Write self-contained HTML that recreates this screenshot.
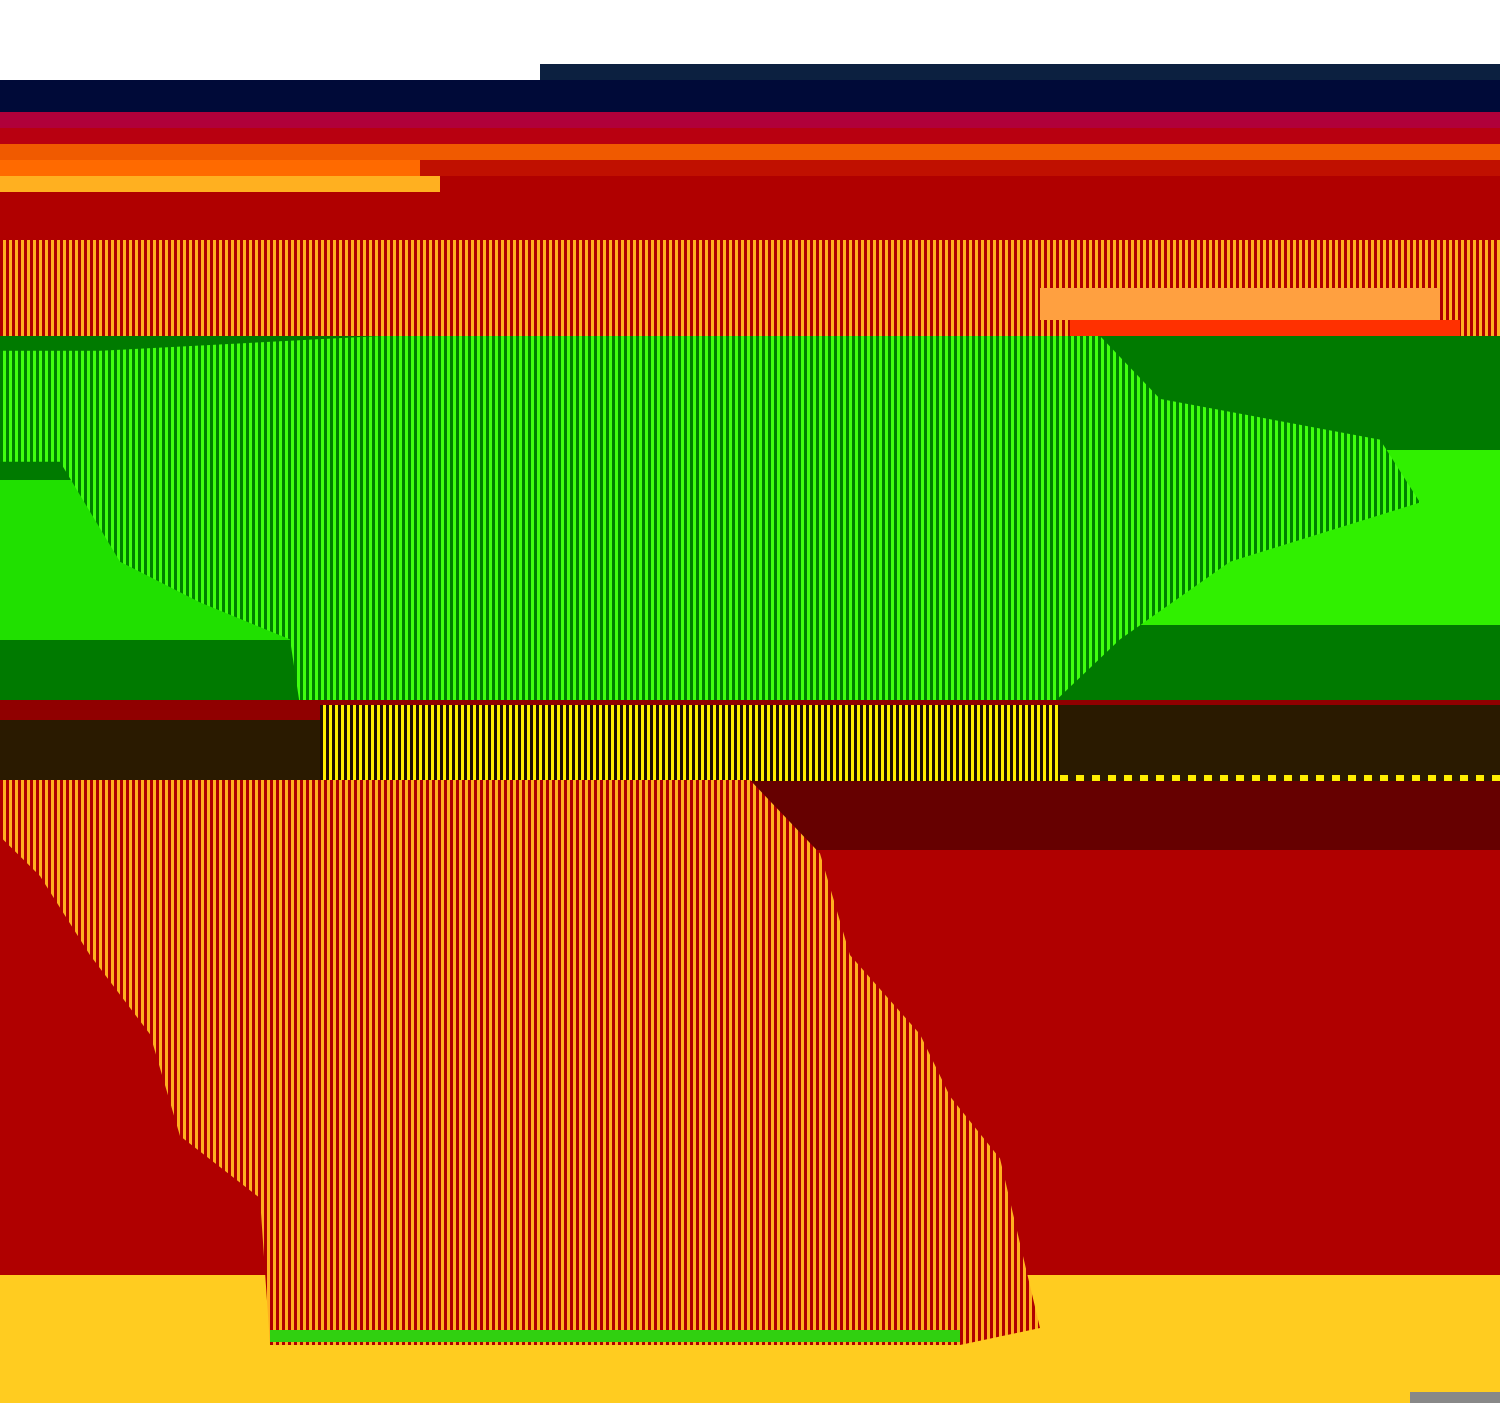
<!DOCTYPE html>
<html><head><meta charset="utf-8"><style>
html,body{margin:0;padding:0;background:#fff;}
#c{position:relative;width:1500px;height:1403px;overflow:hidden;background:#fff;font-family:"Liberation Sans",sans-serif;}
#c div{position:absolute;}
.tex-or{background:repeating-linear-gradient(90deg,#b00000 0 3px,#ffb020 3px 6px);}
.tex-gr{background:repeating-linear-gradient(90deg,#008000 0 3px,#40ff10 3px 6px);}
.tex-yl{background:repeating-linear-gradient(90deg,#201000 0 3px,#ffee00 3px 6px);}
</style></head><body>
<div id="c">
<div style="left:540px;top:64px;width:960px;height:16px;background:#0c2040"></div>
<div style="left:0;top:80px;width:1500px;height:32px;background:#000a38"></div>
<div style="left:0;top:112px;width:1500px;height:32px;background:#b0003a"></div>
<div style="left:0;top:128px;width:1500px;height:16px;background:#b80010"></div>
<div style="left:0;top:144px;width:1500px;height:16px;background:#f05a00"></div>
<div style="left:0;top:160px;width:1500px;height:16px;background:#c01000"></div>
<div style="left:0;top:160px;width:420px;height:16px;background:#ff6a00"></div>
<div style="left:0;top:176px;width:440px;height:16px;background:#ffb020"></div>
<div style="left:440px;top:176px;width:1060px;height:16px;background:#b00000"></div>
<div style="left:0;top:192px;width:1500px;height:48px;background:#b00000"></div>
<div class="tex-or" style="left:0;top:240px;width:1500px;height:110px;"></div>
<div style="left:1040px;top:288px;width:400px;height:32px;background:#ffa040"></div>
<div style="left:1070px;top:320px;width:390px;height:16px;background:#ff3000"></div>
<div style="left:0;top:336px;width:1500px;height:370px;background:#007a00"></div>
<div style="left:0;top:480px;width:320px;height:160px;background:#20e000"></div>
<div style="left:1050px;top:450px;width:450px;height:175px;background:#30f000"></div>
<div class="tex-gr" style="left:0;top:336px;width:1500px;height:370px;clip-path:polygon(0 4%,100px 4%,380px 0,1100px 0,1160px 17%,1380px 28%,1420px 45%,1230px 61%,1120px 82%,1050px 100%,300px 100%,290px 82%,200px 72%,120px 61%,60px 34%,0 34%)"></div>
<div style="left:0;top:700px;width:1500px;height:20px;background:#900000"></div>
<div style="left:0;top:775px;width:1500px;height:505px;background:#b00000"></div>
<div style="left:0;top:720px;width:330px;height:60px;background:#2a1a00"></div>
<div style="left:1050px;top:705px;width:450px;height:70px;background:#2a1a00"></div>
<div style="left:1060px;top:775px;width:440px;height:6px;background:repeating-linear-gradient(90deg,#ffee00 0 8px,#2a1a00 8px 16px)"></div>
<div class="tex-yl" style="left:320px;top:705px;width:740px;height:80px;"></div>
<div style="left:740px;top:781px;width:760px;height:69px;background:#660000"></div>
<div style="left:0;top:1275px;width:1500px;height:128px;background:#ffcc20"></div>
<div class="tex-or" style="left:0;top:780px;width:1060px;height:565px;clip-path:polygon(0 0,750px 0,820px 13%,850px 31%,920px 45%,950px 56%,1000px 67%,1040px 97%,960px 100%,270px 100%,260px 74%,180px 63%,150px 45%,90px 31%,40px 17%,0 10%)"></div>
<div style="left:270px;top:1330px;width:690px;height:12px;background:#30d010"></div>
<div style="left:1410px;top:1392px;width:90px;height:11px;background:#888"></div>
</div>
</body></html>
